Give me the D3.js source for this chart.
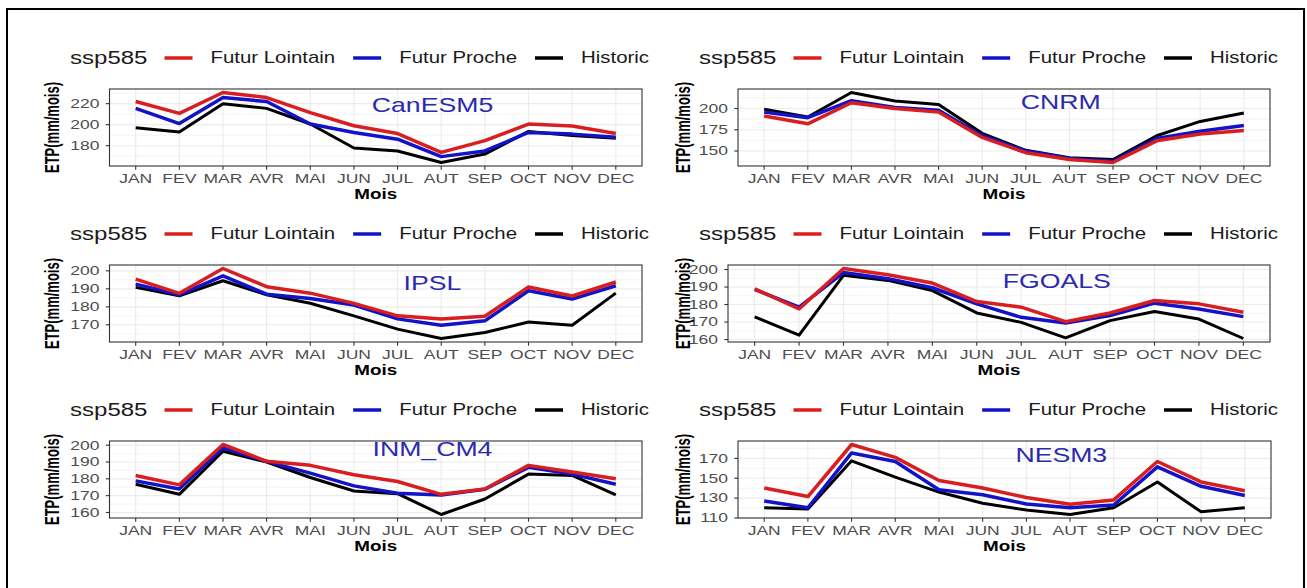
<!DOCTYPE html>
<html>
<head>
<meta charset="utf-8">
<script src="https://cdn.jsdelivr.net/npm/d3@7"></script>
<style>
  body { margin: 0; background: #fff; }
  svg { display: block; }
  text { font-family: "Liberation Sans", Arial, sans-serif; }
</style>
</head>
<body>
<svg id="chart"></svg>
<script>
const W = 1307, H = 588,
  SX = 1.3,               // the source picture is stretched horizontally
  SXT = 1.4,              // axis text looks a little wider still
  red = '#d81e1e',
  blue = '#1212c8',
  black = '#000000',
  labelBlue = '#2a2ab0',
  gridColor = '#ebebeb',
  borderColor = '#333333',
  tickTextColor = '#4d4d4d';

const months = ['JAN', 'FEV', 'MAR', 'AVR', 'MAI', 'JUN', 'JUL', 'AUT', 'SEP', 'OCT', 'NOV', 'DEC'];
const scenarios = ['Futur Lointain', 'Futur Proche', 'Historic'];
const scenarioColors = [red, blue, black];
const scenarioWidths = [3.5, 3.5, 3];
const models = ['CanESM5', 'CNRM', 'IPSL', 'FGOALS', 'INM_CM4', 'NESM3'];

// ETP (mm/mois)
const canLointain = [222, 210.7, 230.6, 225.8, 211.4, 199, 191.5, 173.6, 184.8, 200.6, 198.7, 191.5];
const canProche   = [215.5, 201, 225.8, 222, 200.6, 192.6, 186.2, 169.6, 175, 192.6, 191, 188];
const canHist     = [197, 193, 220, 215.5, 200.6, 177.8, 175, 164, 172, 193.6, 189.8, 187];

const cnrmLointain = [191.2, 182, 206.8, 200, 196, 166, 148, 140, 136.5, 162, 170, 174];
const cnrmProche   = [196, 189.2, 209.2, 201.2, 198, 168, 150, 141.2, 138, 164.8, 173.2, 180];
const cnrmHist     = [199.2, 190, 218.8, 208.8, 204.8, 170.8, 150.8, 142, 140, 168, 184.8, 194.8];

const ipslLointain = [195.4, 187.5, 201.3, 191.2, 187.6, 181.9, 175, 173.3, 174.8, 191, 186, 193.8];
const ipslProche   = [192.6, 186.7, 197.2, 187, 184.6, 181, 173.3, 169.8, 172.2, 188.9, 184.3, 191.7];
const ipslHist     = [190.8, 186.1, 194.5, 186.7, 182, 175, 167.6, 162.4, 165.7, 171.6, 169.8, 187.6];

const fgoalsLointain = [189, 177.5, 200.6, 197, 192.3, 181.7, 178.5, 170.2, 175.2, 182.3, 180.4, 175.6];
const fgoalsProche   = [188.7, 178.5, 198.3, 194.8, 189.6, 180.4, 172.7, 169.4, 173.7, 180.8, 177.5, 173.1];
const fgoalsHist     = [173, 162.5, 196.7, 193.8, 188, 175.2, 169.8, 161, 170.8, 176, 171.7, 160.6];

const inmLointain = [182, 176.4, 200.4, 190.4, 188, 182.4, 178.4, 170.8, 174, 188, 184, 180];
const inmProche   = [178.8, 174, 198.4, 190.4, 183.4, 175.8, 171.4, 170.4, 173.8, 186.8, 182.8, 176.8];
const inmHist     = [176.8, 170.8, 196.4, 190, 180.8, 172.8, 171.2, 158.8, 168, 182.8, 182, 170.4];

const nesmLointain = [140.2, 131.6, 184, 171, 147.7, 140.2, 130.6, 123.8, 128.2, 166.9, 146.3, 137.4];
const nesmProche   = [127.1, 120.3, 175.5, 166.9, 138.5, 133.4, 124.1, 120.3, 123.1, 161.5, 141.9, 132.7];
const nesmHist     = [120.3, 119, 167.6, 151.2, 136.1, 124.8, 118, 113.5, 120.3, 146.3, 116.2, 120.3];

const modelSeries = [
  [canLointain, canProche, canHist],
  [cnrmLointain, cnrmProche, cnrmHist],
  [ipslLointain, ipslProche, ipslHist],
  [fgoalsLointain, fgoalsProche, fgoalsHist],
  [inmLointain, inmProche, inmHist],
  [nesmLointain, nesmProche, nesmHist]
];

// y tick labels of each panel
const yTicks = [
  [180, 200, 220],
  [150, 175, 200],
  [170, 180, 190, 200],
  [160, 170, 180, 190, 200],
  [160, 170, 180, 190, 200],
  [110, 130, 150, 170]
];

// model names are annotated between JUL and AUT (month index), at these ETP values
const labelIndex = 6.8;
const labelY = [218.7, 208, 193.5, 193.8, 197.8, 173.8];

// panel frames (left/right edges differ slightly in the source)
const panelLeft = [109.5, 738, 109.5, 728, 109.5, 738];
const panelRight = [642, 1270, 642, 1270, 642, 1271];
const rowTop = [89, 265, 441],
  panelHeight = 77,
  legendX = [70, 699],
  yTitleX = [52, 683];

const svg = d3.select('#chart').attr('width', W).attr('height', H);

svg.append('rect').attr('width', W).attr('height', H).attr('fill', '#fff');

// outer frame
svg.append('rect')
  .attr('x', 7).attr('y', 9)
  .attr('width', 1297).attr('height', 620)
  .attr('fill', 'none')
  .attr('stroke', '#000')
  .attr('stroke-width', 2);

function stext(g, x, y, str, size, sx = SX) {
  return g.append('text')
    .attr('transform', `translate(${x},${y}) scale(${sx},1)`)
    .attr('dy', '0.35em')
    .attr('font-size', size)
    .text(str);
}

const defs = svg.append('defs');

models.forEach((model, i) => {
  const col = i % 2, row = Math.floor(i / 2);
  const left = panelLeft[i], right = panelRight[i];
  const top = rowTop[row], bottom = top + panelHeight;
  const series = modelSeries[i];

  const x = d3.scalePoint().domain(months).range([left, right]).padding(0.6);
  const all = series.flat();
  const [lo, hi] = d3.extent(all);
  const pad = (hi - lo) * 0.05;
  const y = d3.scaleLinear().domain([lo - pad, hi + pad]).range([bottom, top]);

  const g = svg.append('g').attr('class', 'panel');

  // minor grid
  const ticks = yTicks[i];
  const step = ticks[1] - ticks[0];
  const minors = [ticks[0] - step / 2, ...ticks.map(t => t + step / 2)]
    .filter(v => v > y.domain()[0] && v < y.domain()[1]);
  g.selectAll('.minor').data(minors).enter().append('line')
    .attr('x1', left).attr('x2', right)
    .attr('y1', d => y(d)).attr('y2', d => y(d))
    .attr('stroke', gridColor).attr('stroke-width', 0.6);
  // major grid
  g.selectAll('.hmajor').data(ticks).enter().append('line')
    .attr('x1', left).attr('x2', right)
    .attr('y1', d => y(d)).attr('y2', d => y(d))
    .attr('stroke', gridColor).attr('stroke-width', 1.1);
  g.selectAll('.vmajor').data(months).enter().append('line')
    .attr('x1', d => x(d)).attr('x2', d => x(d))
    .attr('y1', top).attr('y2', bottom)
    .attr('stroke', gridColor).attr('stroke-width', 1.1);

  // clipped content
  const clipId = `clip-${i}`;
  defs.append('clipPath').attr('id', clipId)
    .append('rect').attr('x', left).attr('y', top)
    .attr('width', right - left).attr('height', panelHeight);
  const content = g.append('g').attr('clip-path', `url(#${clipId})`);

  const line = d3.line()
    .x((d, k) => x(months[k]))
    .y(d => y(d));

  // draw Historic first so the futures sit on top, as in the source
  [2, 1, 0].forEach(s => {
    content.append('path')
      .datum(series[s])
      .attr('d', line)
      .attr('fill', 'none')
      .attr('stroke', scenarioColors[s])
      .attr('stroke-width', scenarioWidths[s])
      .attr('stroke-linejoin', 'round');
  });

  const labelX = x(months[0]) + labelIndex * x.step();
  stext(content, labelX, y(labelY[i]), model, 20.5)
    .attr('text-anchor', 'middle')
    .attr('fill', labelBlue);

  // frame
  g.append('rect')
    .attr('x', left).attr('y', top)
    .attr('width', right - left).attr('height', panelHeight)
    .attr('fill', 'none').attr('stroke', borderColor).attr('stroke-width', 1.1);

  // y axis ticks and labels
  ticks.forEach(t => {
    g.append('line')
      .attr('x1', left - 3.7).attr('x2', left)
      .attr('y1', y(t)).attr('y2', y(t))
      .attr('stroke', borderColor).attr('stroke-width', 1.1);
    stext(g, left - 10, y(t), t, 12.5, SXT)
      .attr('text-anchor', 'end')
      .attr('fill', tickTextColor);
  });

  // x axis ticks and labels
  months.forEach(m => {
    g.append('line')
      .attr('x1', x(m)).attr('x2', x(m))
      .attr('y1', bottom).attr('y2', bottom + 3.7)
      .attr('stroke', borderColor).attr('stroke-width', 1.1);
    stext(g, x(m), bottom + 13, m, 12.5, SXT)
      .attr('text-anchor', 'middle')
      .attr('fill', tickTextColor);
  });

  // axis titles
  stext(g, (left + right) / 2, bottom + 28, 'Mois', 14.5)
    .attr('text-anchor', 'middle')
    .attr('font-weight', 'bold')
    .attr('fill', '#000');

  g.append('text')
    .attr('transform', `translate(${yTitleX[col]},${(top + bottom) / 2}) scale(1.5,1) rotate(-90)`)
    .attr('dy', '0.35em')
    .attr('text-anchor', 'middle')
    .attr('font-size', 13)
    .attr('font-weight', 'bold')
    .attr('fill', '#000')
    .text('ETP(mm/mois)');

  // legend above each panel
  const ly = top - 31;
  const lg = svg.append('g').attr('class', 'legend');
  let cx = legendX[col];
  const title = stext(lg, cx, ly, 'ssp585', 18.5).attr('fill', '#1a1a1a');
  cx += title.node().getComputedTextLength() * SX + 17;
  scenarios.forEach((s, k) => {
    lg.append('line')
      .attr('x1', cx).attr('x2', cx + 28)
      .attr('y1', ly).attr('y2', ly)
      .attr('stroke', scenarioColors[k]).attr('stroke-width', 3.5);
    cx += 28 + 18;
    const t = stext(lg, cx, ly, s, 15.7).attr('fill', '#1a1a1a');
    cx += t.node().getComputedTextLength() * SX + 18;
  });
});
</script>
</body>
</html>
